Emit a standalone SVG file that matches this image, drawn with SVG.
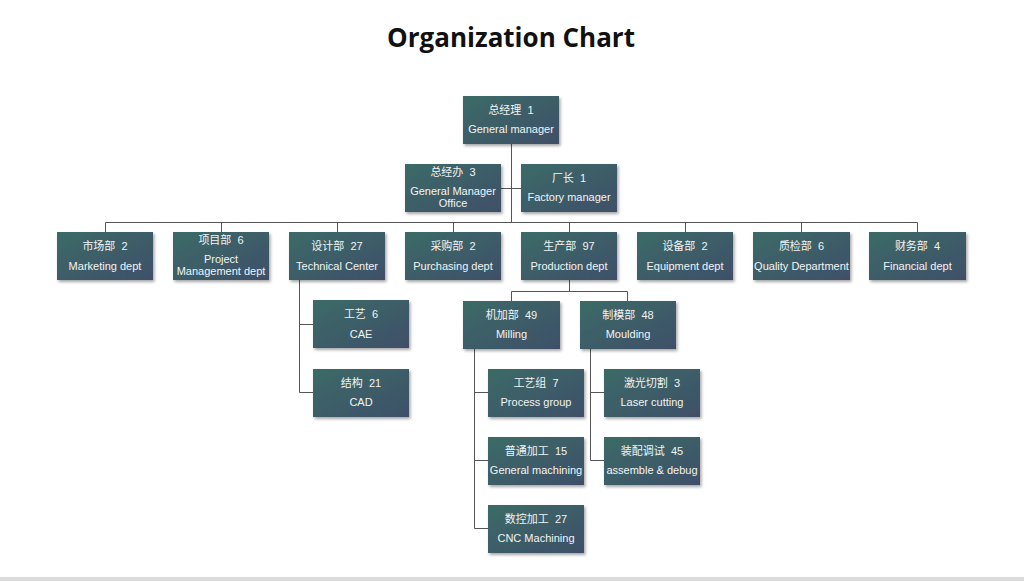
<svg xmlns="http://www.w3.org/2000/svg" width="1024" height="581" viewBox="0 0 1024 581">
<defs>
<linearGradient id="g" x1="0" y1="0" x2="1" y2="1">
<stop offset="0" stop-color="#3b6b66"/>
<stop offset="1" stop-color="#3f4f69"/>
</linearGradient>
<filter id="sh" x="-10%" y="-10%" width="130%" height="140%">
<feDropShadow dx="1.5" dy="2" stdDeviation="1.5" flood-color="#000" flood-opacity="0.35"/>
</filter>
</defs>
<style>
.b{fill:url(#g);filter:url(#sh)}
.t{font-family:"Liberation Sans","Noto Sans CJK SC",sans-serif;font-size:11px;fill:#f2f4f4;text-anchor:middle;white-space:pre}
.c{fill:none;stroke:#555;stroke-width:1}
.title{font-family:"Open Sans","Noto Sans",sans-serif;font-weight:bold;font-size:26px;fill:#111;text-anchor:middle}
</style>
<rect width="1024" height="581" fill="#fff"/>
<rect x="0" y="577" width="1024" height="4" fill="#dcdcdc"/>
<text class="title" x="511" y="47">Organization Chart</text>
<g id="connectors">
<path class="c" d="M511.5 144V222.5M501 188.5H521M105.5 222.5H917.5M105.5 222.5V232M221.5 222.5V232M337.5 222.5V232M453.5 222.5V232M569.5 222.5V232M685.5 222.5V232M801.5 222.5V232M917.5 222.5V232"/>
<path class="c" d="M299.5 280V392.5H313M299.5 324.5H313"/>
<path class="c" d="M569.5 280V291.5M511.5 301V291.5H627.5V301"/>
<path class="c" d="M474.5 349V528.5H488M474.5 392.5H488M474.5 460.5H488"/>
<path class="c" d="M590.5 349V460.5H604M590.5 392.5H604"/>
</g>
<g id="n-gm"><rect class="b" x="463" y="96" width="96" height="48"/><text class="t" x="511" y="114">总经理  1</text><text class="t" x="511" y="133">General manager</text></g>
<g id="n-gmo"><rect class="b" x="405" y="164" width="96" height="48"/><text class="t" x="453" y="176">总经办  3</text><text class="t" x="453" y="195">General Manager</text><text class="t" x="453" y="207">Office</text></g>
<g id="n-fm"><rect class="b" x="521" y="164" width="96" height="48"/><text class="t" x="569" y="182">厂长  1</text><text class="t" x="569" y="201">Factory manager</text></g>
<g id="n-mkt"><rect class="b" x="57" y="232" width="96" height="48"/><text class="t" x="105" y="250">市场部  2</text><text class="t" x="105" y="270">Marketing dept</text></g>
<g id="n-pm"><rect class="b" x="173" y="232" width="96" height="48"/><text class="t" x="221" y="244">项目部  6</text><text class="t" x="221" y="263">Project</text><text class="t" x="221" y="275">Management dept</text></g>
<g id="n-tc"><rect class="b" x="289" y="232" width="96" height="48"/><text class="t" x="337" y="250">设计部  27</text><text class="t" x="337" y="270">Technical Center</text></g>
<g id="n-pur"><rect class="b" x="405" y="232" width="96" height="48"/><text class="t" x="453" y="250">采购部  2</text><text class="t" x="453" y="270">Purchasing dept</text></g>
<g id="n-prod"><rect class="b" x="521" y="232" width="96" height="48"/><text class="t" x="569" y="250">生产部  97</text><text class="t" x="569" y="270">Production dept</text></g>
<g id="n-eq"><rect class="b" x="637" y="232" width="96" height="48"/><text class="t" x="685" y="250">设备部  2</text><text class="t" x="685" y="270">Equipment dept</text></g>
<g id="n-qc"><rect class="b" x="753" y="232" width="97" height="48"/><text class="t" x="801.5" y="250">质检部  6</text><text class="t" x="801.5" y="270">Quality Department</text></g>
<g id="n-fin"><rect class="b" x="869" y="232" width="97" height="48"/><text class="t" x="917.5" y="250">财务部  4</text><text class="t" x="917.5" y="270">Financial dept</text></g>
<g id="n-cae"><rect class="b" x="313" y="300" width="96" height="48"/><text class="t" x="361" y="318">工艺  6</text><text class="t" x="361" y="338">CAE</text></g>
<g id="n-cad"><rect class="b" x="313" y="369" width="96" height="48"/><text class="t" x="361" y="387">结构  21</text><text class="t" x="361" y="406">CAD</text></g>
<g id="n-mill"><rect class="b" x="463" y="301" width="97" height="48"/><text class="t" x="511.5" y="319">机加部  49</text><text class="t" x="511.5" y="338">Milling</text></g>
<g id="n-mould"><rect class="b" x="580" y="301" width="96" height="48"/><text class="t" x="628" y="319">制模部  48</text><text class="t" x="628" y="338">Moulding</text></g>
<g id="n-pg"><rect class="b" x="488" y="369" width="96" height="48"/><text class="t" x="536" y="387">工艺组  7</text><text class="t" x="536" y="406">Process group</text></g>
<g id="n-gmc"><rect class="b" x="488" y="437" width="96" height="48"/><text class="t" x="536" y="455">普通加工  15</text><text class="t" x="536" y="474">General machining</text></g>
<g id="n-cnc"><rect class="b" x="488" y="505" width="96" height="48"/><text class="t" x="536" y="523">数控加工  27</text><text class="t" x="536" y="542">CNC Machining</text></g>
<g id="n-laser"><rect class="b" x="604" y="369" width="96" height="48"/><text class="t" x="652" y="387">激光切割  3</text><text class="t" x="652" y="406">Laser cutting</text></g>
<g id="n-asm"><rect class="b" x="604" y="437" width="96" height="48"/><text class="t" x="652" y="455">装配调试  45</text><text class="t" x="652" y="474">assemble &amp; debug</text></g>
</svg>
